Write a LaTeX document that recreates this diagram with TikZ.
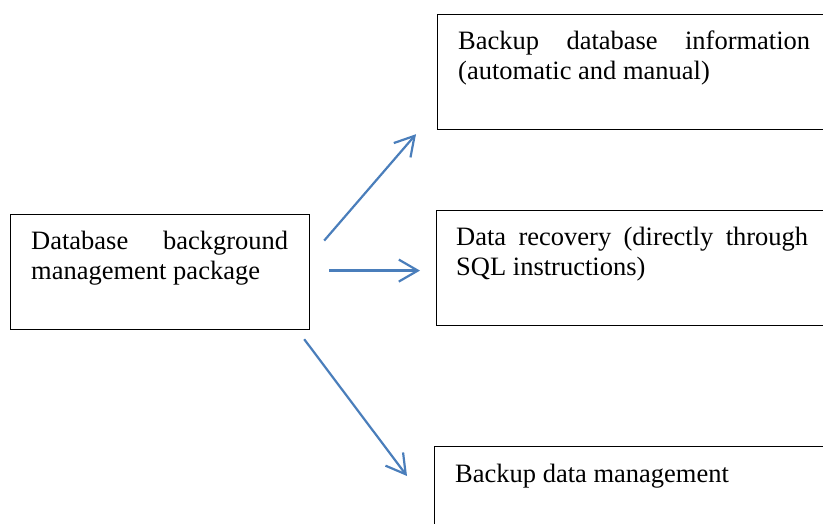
\documentclass[tikz,border=0pt]{standalone}
\usepackage{fontspec}
\setmainfont{Liberation Serif}
\usepackage{tikz}
\usetikzlibrary{arrows.meta,calc,positioning}
\definecolor{linkblue}{HTML}{4A7EBB}
\tolerance=10000
\hbadness=10000

\begin{document}
\begin{tikzpicture}[x=1pt,y=1pt,
    box/.style={draw, line width=1.2pt, minimum height=115pt, inner sep=0pt},
    txt/.style={inner sep=0pt, anchor=base west, align=justify,
      font=\fontsize{26.5}{30}\selectfont},
    link/.style={draw=linkblue, line width=2.2pt,
      -{Straight Barb[length=19pt,width=22pt,line width=2.2pt]}}]
        % Page frame
        \useasboundingbox (0,0) rectangle (823,523);
        \clip (0,0) rectangle (823,523);
        % Draw the boxes
        \node[box, minimum width=299pt, anchor=north west] (src) at (10,309) {};
        \node[box, minimum width=430pt, anchor=north west] (backup) at (437,509) {};
        \node[box, minimum width=430pt, anchor=north west] (recover) at (436,313) {};
        \node[box, minimum width=430pt, anchor=north west] (manage) at (434,77) {};
        % Box texts
        \node[txt, text width=257pt] (srctext) at ([xshift=21pt,yshift=-36pt]src.north west)
          {Database background management package};
        \node[txt, text width=352pt] (backuptext) at ([xshift=21pt,yshift=-36pt]backup.north west)
          {Backup database information (automatic and manual)};
        \node[txt, text width=352pt] (recovertext) at ([xshift=20pt,yshift=-36pt]recover.north west)
          {Data recovery (directly through SQL instructions)};
        \node[txt, text width=352pt] (managetext) at ([xshift=21pt,yshift=-36pt]manage.north west)
          {Backup data management};
        % Arrows
        \draw[link] ([xshift=14pt,yshift=31.5pt]src.east) -- ([xshift=-21pt,yshift=-4pt]backup.south west);
        \draw[link] ([xshift=19pt,yshift=1.5pt]src.east) -- ([xshift=-16pt,yshift=-2.5pt]recover.west);
        \draw[link] ([xshift=-6pt,yshift=-9pt]src.south east) -- ([xshift=-27pt,yshift=-30pt]manage.north west);
      \end{tikzpicture}
\end{document}
